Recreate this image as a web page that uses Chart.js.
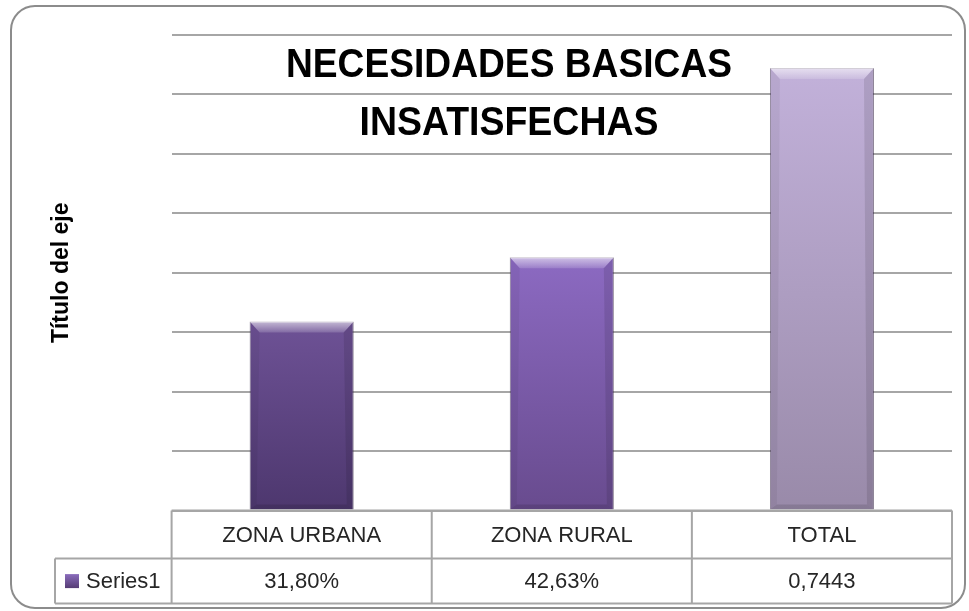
<!DOCTYPE html>
<html>
<head>
<meta charset="utf-8">
<script src="https://cdn.jsdelivr.net/npm/chart.js@4/dist/chart.umd.min.js"></script>
<style>
  html,body{margin:0;padding:0;background:#fff;}
  #wrap{width:969px;height:611px;}
</style>
</head>
<body>
<div id="wrap"><canvas id="nbiChart" width="969" height="611"></canvas></div>
<script>
// data
const categories=['ZONA URBANA','ZONA RURAL','TOTAL'];
const values=[0.318,0.4263,0.7443];
const tableLabels=['31,80%','42,63%','0,7443'];
const seriesName='Series1';
const titleLines=['NECESIDADES BASICAS','INSATISFECHAS'];
const axisTitle='Título del eje';

// colours per bar: top / bottom of the gradient
const topColors=['#6e5296','#8c6ac2','#c2b1da'];
const baseColors=['#4d376e','#684b8e','#998aa9'];
const lineGray='#a6a6a6';

function barFill(ctx){
  const chart=ctx.chart;
  const i=ctx.dataIndex;
  if(!chart.chartArea) return topColors[i];
  const y=chart.scales.y;
  const g=chart.ctx.createLinearGradient(0,y.getPixelForValue(values[i]),0,y.getPixelForValue(0));
  g.addColorStop(0,topColors[i]);
  g.addColorStop(1,baseColors[i]);
  return g;
}

// frame, title, bevel and data table
const decorPlugin={
  id:'decor',
  beforeDraw(chart){
    const c=chart.ctx;
    c.save();
    c.fillStyle='#fff';
    c.fillRect(0,0,chart.width,chart.height);
    c.strokeStyle='#8c8c8c';
    c.lineWidth=2;
    c.beginPath();
    c.roundRect(11,6,954,602,24);
    c.stroke();
    c.restore();
  },
  afterDatasetsDraw(chart){
    const c=chart.ctx;
    const meta=chart.getDatasetMeta(0);
    meta.data.forEach((bar,i)=>{
      const w=bar.width, l=bar.x-w/2, r=bar.x+w/2, t=bar.y, b=bar.base;
      c.save();
      // light bevel on top
      const g=c.createLinearGradient(0,t,0,t+11);
      g.addColorStop(0,'rgba(255,255,255,0.6)');
      g.addColorStop(1,'rgba(255,255,255,0.15)');
      c.fillStyle=g;
      c.beginPath();
      c.moveTo(l,t);c.lineTo(r,t);c.lineTo(r-10,t+11);c.lineTo(l+10,t+11);c.closePath();
      c.fill();
      // darker sides
      c.fillStyle='rgba(0,0,0,0.10)';
      c.beginPath();
      c.moveTo(r,t);c.lineTo(r,b);c.lineTo(r-7,b-5);c.lineTo(r-10,t+11);c.closePath();
      c.fill();
      c.fillStyle='rgba(0,0,0,0.05)';
      c.beginPath();
      c.moveTo(l,t);c.lineTo(l,b);c.lineTo(l+7,b-5);c.lineTo(l+10,t+11);c.closePath();
      c.fill();
      c.fillStyle='rgba(0,0,0,0.12)';
      c.beginPath();
      c.moveTo(l,b);c.lineTo(r,b);c.lineTo(r-7,b-5);c.lineTo(l+7,b-5);c.closePath();
      c.fill();
      c.restore();
    });
  },
  afterDraw(chart){
    const c=chart.ctx;
    const ca=chart.chartArea;
    const x=chart.scales.x;
    const row1=ca.bottom, row2=ca.bottom+48, row3=ca.bottom+93;
    c.save();
    // table grid
    c.strokeStyle=lineGray;
    c.lineWidth=2;
    c.beginPath();
    c.moveTo(ca.left,row1);c.lineTo(ca.right,row1);
    c.moveTo(55,row2);c.lineTo(ca.right,row2);
    c.moveTo(55,row3);c.lineTo(ca.right,row3);
    c.moveTo(55,row2);c.lineTo(55,row3);
    c.moveTo(ca.left,row1);c.lineTo(ca.left,row3);
    categories.forEach((cat,i)=>{
      const e=i<categories.length-1?(x.getPixelForValue(i)+x.getPixelForValue(i+1))/2:ca.right;
      c.moveTo(e,row1);c.lineTo(e,row3);
    });
    c.stroke();
    // values row
    c.fillStyle='#262626';
    c.font='22px "Liberation Sans"';
    c.textAlign='center';
    c.textBaseline='middle';
    const mid=(row2+row3)/2+1;
    tableLabels.forEach((t,i)=>{
      c.fillText(t,x.getPixelForValue(i),mid);
    });
    // legend key
    const kg=c.createLinearGradient(0,mid-8,0,mid+7);
    kg.addColorStop(0,'#8a6cbc');kg.addColorStop(1,'#52396f');
    c.fillStyle=kg;
    c.fillRect(65,mid-8,14,14);
    c.fillStyle='#262626';
    c.textAlign='left';
    c.fillText(seriesName,86,mid);
    // title
    c.fillStyle='#000';
    c.font='bold 40px "Liberation Sans"';
    c.textAlign='center';
    c.textBaseline='alphabetic';
    const cx=509;
    [[titleLines[0],77,446],[titleLines[1],135,299]].forEach(([t,base,target])=>{
      const w=c.measureText(t).width;
      const s=target/w;
      c.save();
      c.translate(cx,base);
      c.scale(s,1);
      c.fillText(t,0,0);
      c.restore();
    });
    c.restore();
  }
};

new Chart(document.getElementById('nbiChart'),{
  type:'bar',
  data:{
    labels:categories,
    datasets:[{
      label:seriesName,
      data:values,
      backgroundColor:barFill,
      borderColor:'rgba(60,40,80,0.55)',
      borderWidth:1,
      barPercentage:0.4,
      categoryPercentage:1
    }]
  },
  options:{
    responsive:false,
    animation:false,
    layout:{padding:{left:46,right:17,top:35,bottom:58}},
    plugins:{
      legend:{display:false},
      tooltip:{enabled:false}
    },
    scales:{
      x:{
        grid:{display:false},
        border:{display:false},
        ticks:{
          padding:4,
          color:'#262626',
          font:{family:'"Liberation Sans"',size:22}
        }
      },
      y:{
        min:0,
        max:0.8,
        ticks:{display:false,stepSize:0.1},
        grid:{color:lineGray,lineWidth:2,drawTicks:false},
        border:{display:false},
        title:{
          display:true,
          text:axisTitle,
          color:'#000',
          font:{family:'"Liberation Sans"',size:23,weight:'bold'},
          padding:{top:2,bottom:96}
        }
      }
    }
  },
  plugins:[decorPlugin]
});
</script>
</body>
</html>
